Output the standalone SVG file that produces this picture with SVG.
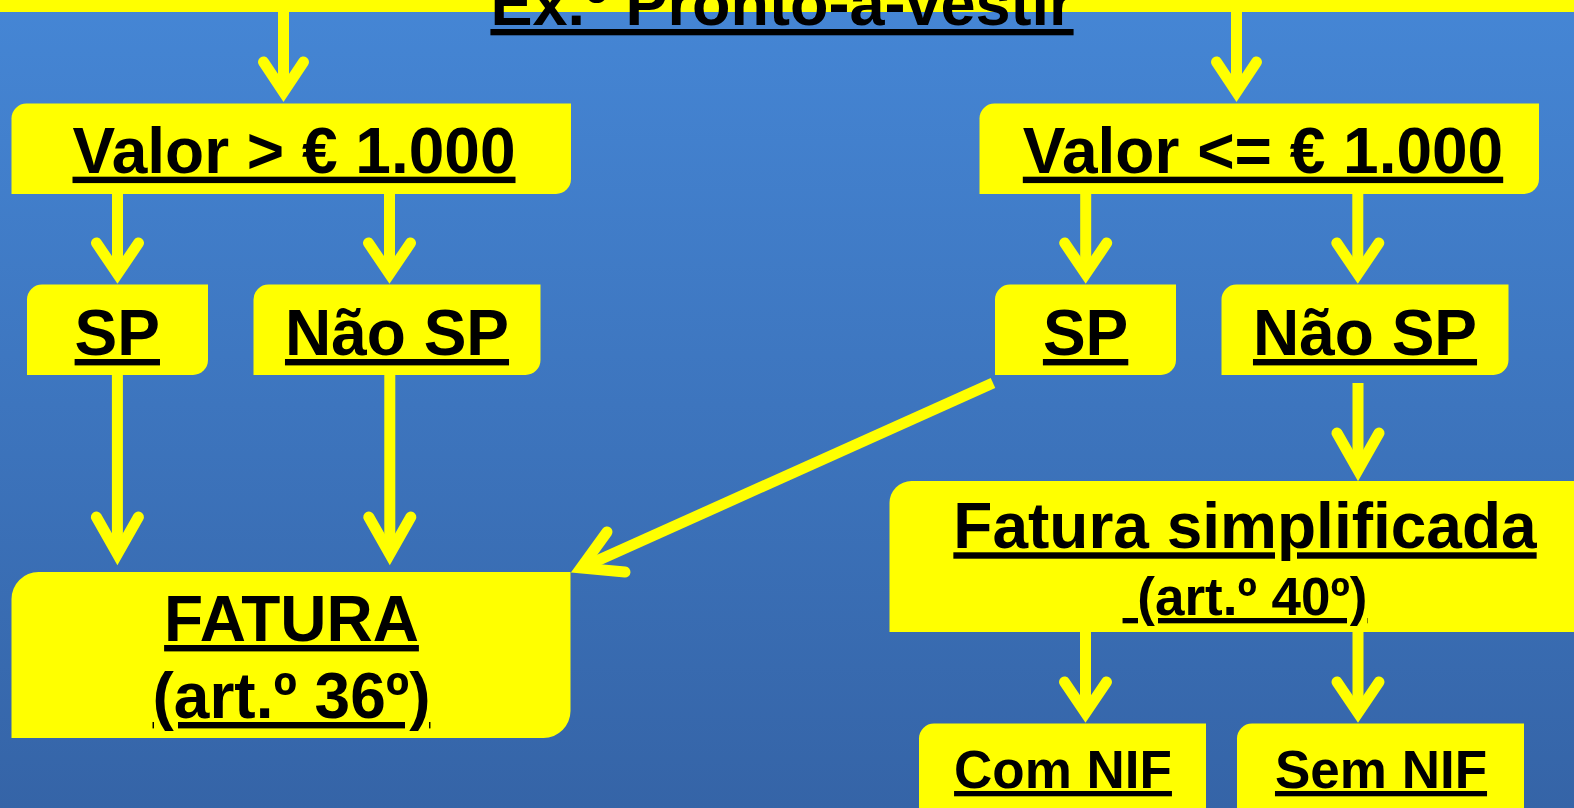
<svg xmlns="http://www.w3.org/2000/svg" width="1574" height="808" viewBox="0 0 1574 808">
  <defs>
    <linearGradient id="bg" x1="0" y1="0" x2="0" y2="1">
      <stop offset="0" stop-color="#4586D5"/>
      <stop offset="1" stop-color="#3564A7"/>
    </linearGradient>
  </defs>
  <style>
    .box { fill: #FFFF00; }
    .t { font-family: "Liberation Sans", Arial, sans-serif; font-weight: bold; fill: #000; text-anchor: middle; text-decoration: underline; text-decoration-skip-ink: none; text-decoration-thickness: 0.11em; text-underline-offset: 0.09em; }
    .t64 { font-size: 64px; }
    .t53 { font-size: 53px; }
    .t63 { font-size: 63px; }
    .c { fill: none; stroke: #FFFF00; stroke-width: 11; }
    .shaft { stroke-linecap: butt; }
    .head { stroke-linecap: round; stroke-linejoin: miter; stroke-miterlimit: 10; }
  </style>
  <rect x="0" y="0" width="1574" height="808" fill="url(#bg)"/>

  <g id="title">
    <rect class="box" x="0" y="0" width="1574" height="12"/>
    <text class="t t63" x="782" y="25">Ex.º Pronto-a-vestir</text>
  </g>

  <g id="connectors">
    <path class="c shaft" d="M283.5,0 L283.5,92"/>
    <path class="c head" d="M263.5,62 L283.5,92 L303.5,62"/>
    <path class="c shaft" d="M1236.5,0 L1236.5,92"/>
    <path class="c head" d="M1216.5,62 L1236.5,92 L1256.5,62"/>
    <path class="c shaft" d="M117.5,190 L117.5,274"/>
    <path class="c head" d="M96.5,243 L117.5,274 L138.5,243"/>
    <path class="c shaft" d="M389.5,190 L389.5,274"/>
    <path class="c head" d="M368.5,243 L389.5,274 L410.5,243"/>
    <path class="c shaft" d="M1085.7,190 L1085.7,274"/>
    <path class="c head" d="M1064.7,243 L1085.7,274 L1106.7,243"/>
    <path class="c shaft" d="M1357.8,190 L1357.8,274"/>
    <path class="c head" d="M1336.8,243 L1357.8,274 L1378.8,243"/>
    <path class="c shaft" d="M117.4,372 L117.4,554"/>
    <path class="c head" d="M96.4,517 L117.4,554 L138.4,517"/>
    <path class="c shaft" d="M389.8,372 L389.8,554"/>
    <path class="c head" d="M368.8,517 L389.8,554 L410.8,517"/>
    <path class="c shaft" d="M993,383 L581,568"/>
    <path class="c head" d="M607,532 L581,568 L625,572"/>
    <path class="c shaft" d="M1358,383 L1358,470"/>
    <path class="c head" d="M1337,433 L1358,470 L1379,433"/>
    <path class="c shaft" d="M1085.5,628 L1085.5,713"/>
    <path class="c head" d="M1064.5,682 L1085.5,713 L1106.5,682"/>
    <path class="c shaft" d="M1358,628 L1358,713"/>
    <path class="c head" d="M1337,682 L1358,713 L1379,682"/>
  </g>

  <g id="valor-maior">
    <path class="box" d="M11.5,118.5 A15,15 0 0 1 26.5,103.5 L571,103.5 L571,179 A15,15 0 0 1 556,194 L11.5,194 Z"/>
    <text class="t t64" x="294" y="172.7">Valor &gt; € 1.000</text>
  </g>

  <g id="valor-menor">
    <path class="box" d="M979.5,118.5 A15,15 0 0 1 994.5,103.5 L1539,103.5 L1539,179 A15,15 0 0 1 1524,194 L979.5,194 Z"/>
    <text class="t t64" x="1263" y="172.7">Valor &lt;= € 1.000</text>
  </g>

  <g id="sp-left">
    <path class="box" d="M27,299.5 A15,15 0 0 1 42,284.5 L208,284.5 L208,360 A15,15 0 0 1 193,375 L27,375 Z"/>
    <text class="t t64" x="117.3" y="355">SP</text>
  </g>

  <g id="naosp-left">
    <path class="box" d="M253.5,299.5 A15,15 0 0 1 268.5,284.5 L540.5,284.5 L540.5,360 A15,15 0 0 1 525.5,375 L253.5,375 Z"/>
    <text class="t t64" x="397" y="355">Não SP</text>
  </g>

  <g id="sp-right">
    <path class="box" d="M995,299.5 A15,15 0 0 1 1010,284.5 L1176,284.5 L1176,360 A15,15 0 0 1 1161,375 L995,375 Z"/>
    <text class="t t64" x="1085.6" y="355">SP</text>
  </g>

  <g id="naosp-right">
    <path class="box" d="M1221.5,299.5 A15,15 0 0 1 1236.5,284.5 L1508.5,284.5 L1508.5,360 A15,15 0 0 1 1493.5,375 L1221.5,375 Z"/>
    <text class="t t64" x="1365" y="355">Não SP</text>
  </g>

  <g id="fatura">
    <path class="box" d="M11.5,599 A27,27 0 0 1 38.5,572 L570.5,572 L570.5,711 A27,27 0 0 1 543.5,738 L11.5,738 Z"/>
    <text class="t t64" x="291.5" y="641">FATURA</text>
    <text class="t t64" x="291.5" y="718">(art.º 36º)</text>
  </g>

  <g id="fatura-simplificada">
    <path class="box" d="M889.5,503 A22,22 0 0 1 911.5,481 L1600,481 L1600,632 L889.5,632 Z"/>
    <text class="t t64" x="1245" y="548.3">Fatura simplificada</text>
    <text class="t t53" x="1245" y="615" xml:space="preserve"> (art.º 40º)</text>
  </g>

  <g id="com-nif">
    <path class="box" d="M919,738.5 A15,15 0 0 1 934,723.5 L1206,723.5 L1206,830 L919,830 Z"/>
    <text class="t t53" x="1063" y="788">Com NIF</text>
  </g>

  <g id="sem-nif">
    <path class="box" d="M1237,738.5 A15,15 0 0 1 1252,723.5 L1524,723.5 L1524,830 L1237,830 Z"/>
    <text class="t t53" x="1381" y="788">Sem NIF</text>
  </g>
</svg>
